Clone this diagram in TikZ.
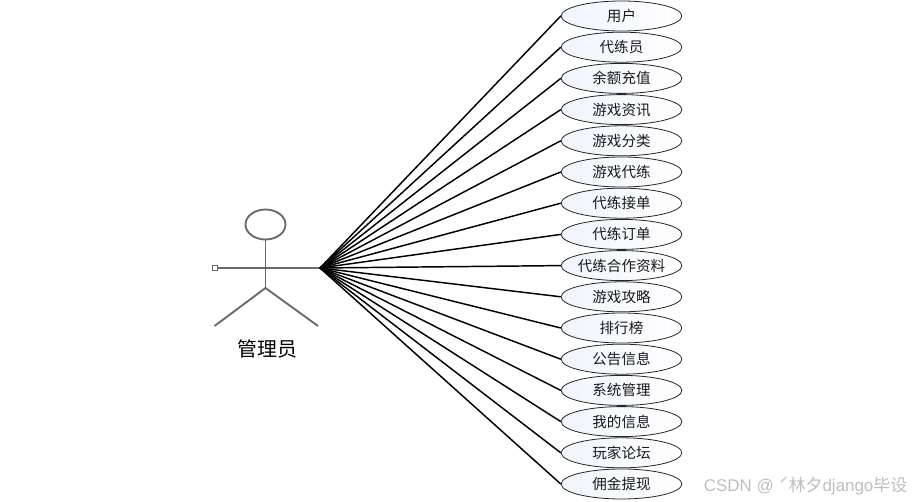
\documentclass[tikz,border=0pt]{standalone}
\usepackage{fontspec}
\setmainfont{Liberation Sans}
\newfontfamily\cjk{Noto Sans CJK SC}
\definecolor{actorgray}{RGB}{105,105,105}
\definecolor{ucfill}{RGB}{240,244,252}
\definecolor{wmgray}{RGB}{190,190,190}
\usetikzlibrary{shapes.geometric}
\tikzset{
  usecase/.style={ellipse,draw=black!85,line width=0.6pt,left color=ucfill,right color=white,
    minimum width=90.5pt,minimum height=22.5pt,inner xsep=-3pt,inner ysep=0pt,font=\cjk\fontsize{10.9pt}{13pt}\selectfont,text=black!90},
  actorline/.style={draw=actorgray,line width=1.4pt},
  link/.style={draw=black,line width=1.1pt},
}
\begin{document}
\begin{tikzpicture}[x=0.75pt,y=-0.75pt]
\useasboundingbox (0,0) rectangle (915,502);
\coordinate (hub) at (320,268);
\coordinate (hand) at (217,268);
\coordinate (hip) at (265.5,288);
\coordinate (lfoot) at (214.5,326);
\coordinate (rfoot) at (318,326);
\node[draw=actorgray,line width=1.4pt,ellipse,minimum width=30pt,minimum height=22.5pt,inner sep=0pt] (head) at (265.5,224.5) {};
\draw[actorline] (head.south) -- (hip);
\draw[actorline,line width=1.7pt] (hand) -- (hub);
\draw[actorline] (lfoot) -- (hip) -- (rfoot);
\node[draw=actorgray,fill=white,line width=0.5pt,minimum size=3.5pt,inner sep=0pt] (grip) at (215,268) {};
\node[font=\cjk\fontsize{14.9pt}{17pt}\selectfont,text=black] (actorlabel) at (267.5,349) {管理员};
\foreach \n/\t [count=\i from 0] in {a/用户,b/代练员,c/余额充值,d/游戏资讯,e/游戏分类,f/游戏代练,g/代练接单,h/代练订单,k/代练合作资料,l/游戏攻略,m/排行榜,n/公告信息,o/系统管理,p/我的信息,q/玩家论坛,r/佣金提现}{
  \node[usecase] (\n) at (621.5,{16+31.2*\i}) {\t};
  \draw[link] (hub) -- (\n.west);
}
\node[anchor=east,font=\fontsize{12.7pt}{14pt}\selectfont,text=wmgray] (wm) at (912,486) {CSDN @ {\cjk ˊ林夕}django{\cjk 毕设}};
\end{tikzpicture}
\end{document}
